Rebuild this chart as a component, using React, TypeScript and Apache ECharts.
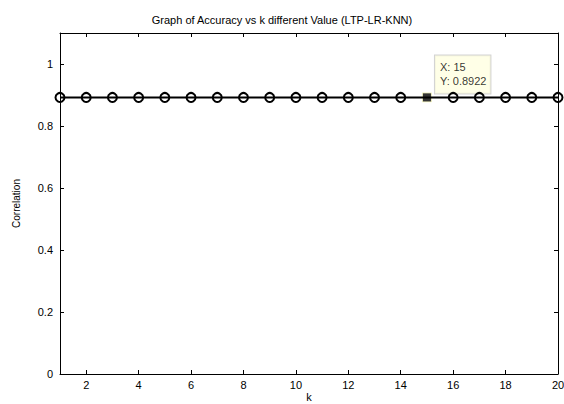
import React, { useEffect, useRef } from "react";
import * as echarts from "echarts";

const kValues = [1, 2, 3, 4, 5, 6, 7, 8, 9, 10, 11, 12, 13, 14, 15, 16, 17, 18, 19, 20];
const correlation = [
  0.8922, 0.8922, 0.8922, 0.8922, 0.8922, 0.8922, 0.8922, 0.8922, 0.8922, 0.8922,
  0.8922, 0.8922, 0.8922, 0.8922, 0.8922, 0.8922, 0.8922, 0.8922, 0.8922, 0.8922,
];
const xTicks = [2, 4, 6, 8, 10, 12, 14, 16, 18, 20];
const tipK = 15;
const tipValue = 0.8922;
const titleText = "Graph of Accuracy vs k different Value (LTP-LR-KNN)";

export default function App() {
  const ref = useRef<HTMLDivElement>(null);
  useEffect(() => {
    if (!ref.current) return;
    const chart = echarts.init(ref.current, undefined, { renderer: "svg" });
    const font = "Liberation Sans, Arial, sans-serif";
    const baseX = {
      type: "value",
      min: 1,
      max: 20,
      splitLine: { show: false },
      axisLine: { show: true, onZero: false, lineStyle: { color: "#000", width: 1 } },
    };
    const baseY = {
      type: "value",
      min: 0,
      max: 1.1,
      interval: 0.2,
      splitLine: { show: false },
      axisLine: { show: true, onZero: false, lineStyle: { color: "#000", width: 1 } },
    };
    chart.setOption({
      animation: false,
      backgroundColor: "#fff",
      title: {
        text: titleText,
        left: "center",
        top: 9,
        textStyle: { fontFamily: font, fontSize: 11, fontWeight: "normal", color: "#000" },
      },
      grid: {
        left: 60,
        right: 6,
        top: 33,
        bottom: 30,
        show: false,
        containLabel: false,
        outerBoundsMode: "none",
      },
      xAxis: [
        {
          ...baseX,
          position: "bottom",
          name: "k",
          nameLocation: "middle",
          nameGap: 17,
          nameMoveOverlap: false,
          nameTextStyle: { fontFamily: font, fontSize: 11, color: "#000" },
          axisTick: { show: true, inside: true, length: 4, customValues: xTicks, lineStyle: { color: "#000" } },
          axisLabel: {
            show: true,
            customValues: xTicks,
            margin: 5,
            fontFamily: font,
            fontSize: 11,
            color: "#000",
          },
        },
        {
          ...baseX,
          position: "top",
          axisTick: { show: true, inside: true, length: 4, customValues: xTicks, lineStyle: { color: "#000" } },
          axisLabel: { show: false },
        },
      ],
      yAxis: [
        {
          ...baseY,
          position: "left",
          name: "Correlation",
          nameLocation: "middle",
          nameGap: 39,
          nameRotate: 90,
          nameTextStyle: { fontFamily: font, fontSize: 10, color: "#000" },
          axisTick: { show: true, inside: true, length: 4, lineStyle: { color: "#000" } },
          axisLabel: {
            show: true,
            margin: 7,
            fontFamily: font,
            fontSize: 11,
            color: "#000",
            formatter: (v: number) => (v > 1.05 ? "" : String(Math.round(v * 10) / 10)),
          },
        },
        {
          ...baseY,
          position: "right",
          axisTick: { show: true, inside: true, length: 4, lineStyle: { color: "#000" } },
          axisLabel: { show: false },
        },
      ],
      series: [
        {
          type: "line",
          xAxisIndex: 0,
          yAxisIndex: 0,
          data: kValues.map((k, i) =>
            k === tipK ? { value: [k, correlation[i]], symbol: "none" } : [k, correlation[i]]
          ),
          symbol: "circle",
          symbolSize: 9,
          showSymbol: true,
          lineStyle: { color: "#000", width: 2 },
          itemStyle: { color: "rgba(0,0,0,0)", borderColor: "#000", borderWidth: 2 },
          clip: false,
          z: 6,
        },
        {
          type: "scatter",
          xAxisIndex: 0,
          yAxisIndex: 0,
          data: [[tipK, tipValue]],
          symbol: "rect",
          symbolSize: 9,
          itemStyle: { color: "#000", borderColor: "#ffffc8", borderWidth: 1 },
          z: 5,
          label: {
            show: true,
            position: [13, -37],
            align: "left",
            verticalAlign: "top",
            formatter: () => `X: ${tipK}\nY: ${tipValue}`,
            backgroundColor: "#ffffe1",
            borderColor: "#c8c8c8",
            borderWidth: 1,
            padding: [5, 4, 5, 5],
            lineHeight: 14,
            fontFamily: font,
            fontSize: 11,
            color: "#000",
          },
        },
      ],
    });
    return () => chart.dispose();
  }, []);
  return (
    <div
      ref={ref}
      style={{ position: "fixed", left: 0, top: 0, width: 564, height: 404, background: "#fff" }}
    />
  );
}
